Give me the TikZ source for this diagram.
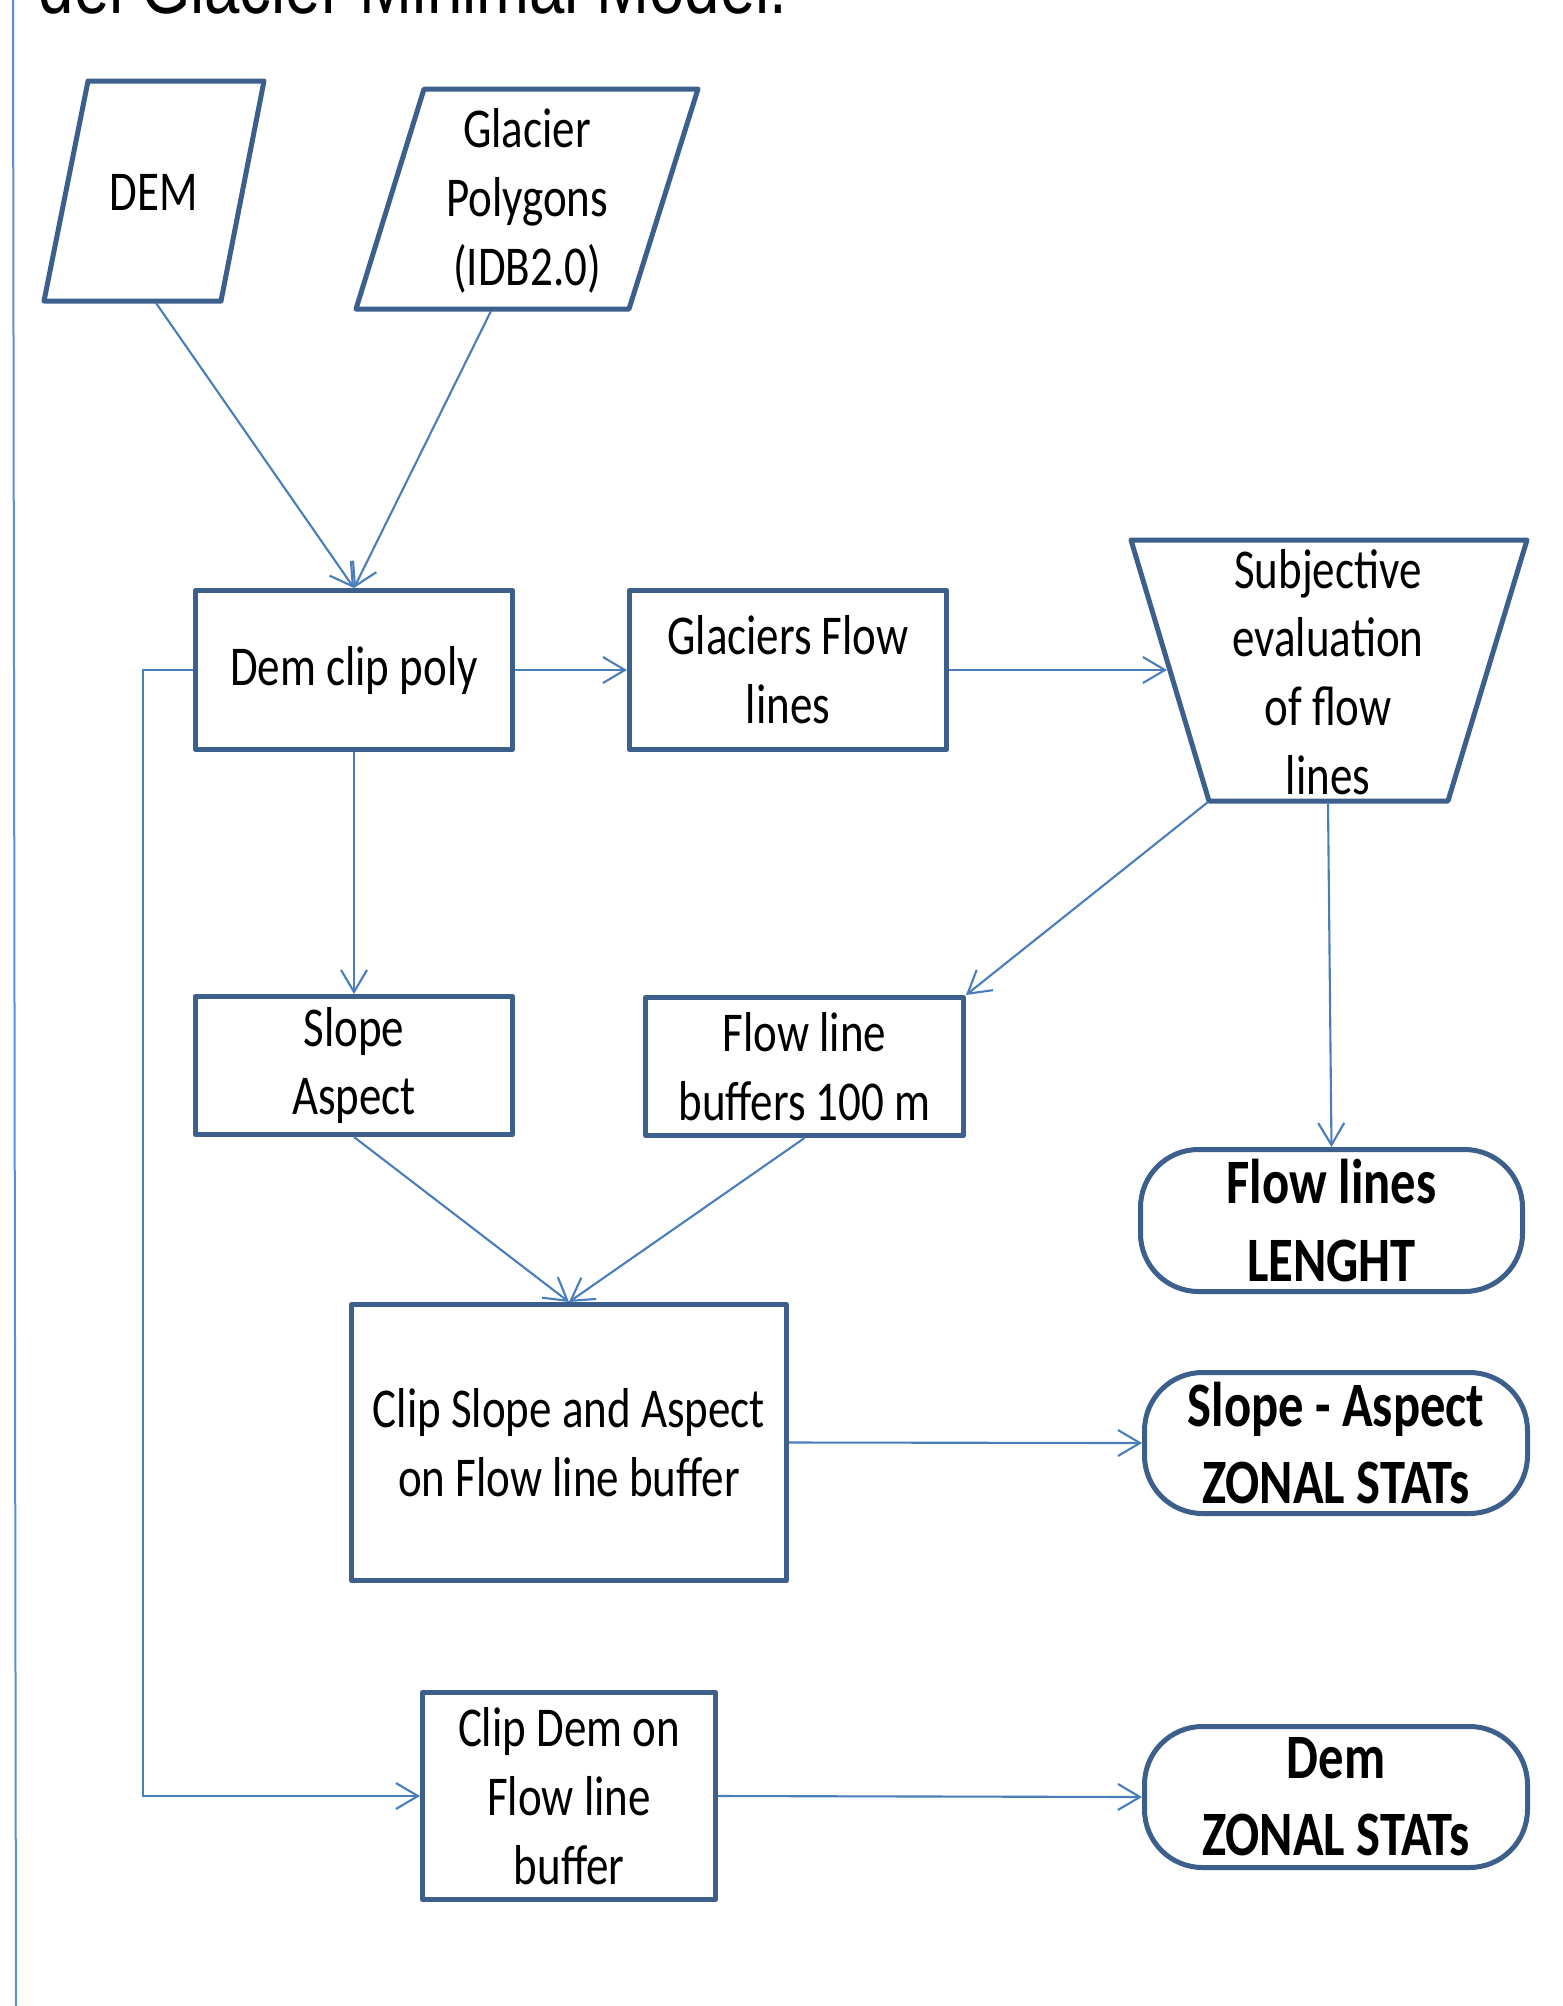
\documentclass[tikz,border=0pt]{standalone}
\usepackage{fontspec}
\setmainfont{Carlito}[FakeStretch=0.8]
\newfontfamily\fctitlefont{Liberation Sans}[FakeStretch=0.8]
\usetikzlibrary{arrows.meta}
\definecolor{boxblue}{HTML}{3C5F8C}
\definecolor{arrowblue}{HTML}{4A7EBB}
\definecolor{frameblue}{HTML}{5A8ED8}
\newcommand\fcnormal{\fontsize{16}{19.6}\selectfont}
\newcommand\fcbold{\fontsize{18}{22}\selectfont\bfseries}
\begin{document}
\begin{tikzpicture}[x=0.1mm,y=-0.1mm,
  boxline/.style={draw=boxblue, line width=0.5mm, line join=round},
  procbox/.style={boxline, rectangle, fill=white, inner sep=0pt, align=center, font=\fcnormal},
  termbox/.style={boxline, rectangle, rounded corners=5.8mm, inner sep=0pt, align=center, font=\fcbold},
  txt/.style={inner sep=0pt, align=center, font=\fcnormal},
  conn/.style={draw=arrowblue, line width=0.6pt, -{Straight Barb[length=2.2mm,width=2.6mm]}},
]
\useasboundingbox (0,0) rectangle (1563,2006);
\begin{scope}
  \clip (0,0) rectangle (1563,2006);
  \node[anchor=base west, inner sep=0pt, font=\fctitlefont\fontsize{22.6}{27}\selectfont] (title) at (38,13) {del Glacier Minimal Model.};
\end{scope}
% left frame line
\draw[frameblue, line width=0.2mm] (13,0) -- (16,2006);

% input parallelograms
\draw[boxline] (88,81) -- (264,81) -- (221,301) -- (44,301) -- cycle;
\node[txt] (dem) at (154,192) {DEM};
\draw[boxline] (424,89) -- (698,89) -- (629,309) -- (356,309) -- cycle;
\node[txt] (gp) at (527,201) {Glacier\\Polygons\\(IDB2.0)};

% process boxes
\node[procbox, minimum width=31.7mm, minimum height=15.9mm] (dcp) at (354,670) {Dem clip poly};
\node[procbox, minimum width=31.7mm, minimum height=15.9mm] (gfl) at (788,670) {Glaciers Flow\\lines};

% subjective evaluation trapezoid
\draw[boxline] (1131,540) -- (1527,540) -- (1448,801) -- (1209,801) -- cycle;
\node[txt] (subj) at (1328,672) {Subjective\\evaluation\\of flow\\lines};

\node[procbox, minimum width=31.7mm, minimum height=13.8mm] (sa) at (354,1065.5) {Slope\\Aspect};
\node[procbox, minimum width=31.8mm, minimum height=13.8mm] (flb) at (804.5,1066.5) {Flow line\\buffers 100 m};
\node[procbox, minimum width=43.5mm, minimum height=27.6mm] (csa) at (569,1442.5) {Clip Slope and Aspect\\on Flow line buffer};
\node[procbox, minimum width=29.3mm, minimum height=20.7mm] (cdf) at (569,1796) {Clip Dem on\\Flow line\\buffer};

% terminals
\node[termbox, minimum width=38.2mm, minimum height=14.2mm] (fll) at (1331.5,1220.5) {Flow lines\\LENGHT};
\node[termbox, minimum width=38.3mm, minimum height=14.1mm] (saz) at (1336,1443) {Slope - Aspect\\ZONAL STATs};
\node[termbox, minimum width=38.3mm, minimum height=14.1mm] (dz) at (1336,1797) {Dem\\ZONAL STATs};

% connector ends on drawn shapes
\coordinate (demout) at (156,303);
\coordinate (gpout) at (491,311);
\coordinate (subjin) at (1167,670);
\coordinate (subjbl) at (1208,802);
\coordinate (subjout) at (1328,802);

% connectors
\draw[conn] (demout) -- (dcp.north);
\draw[conn] (gpout) -- (dcp.north);
\draw[conn] (dcp.east) -- (gfl.west);
\draw[conn] (gfl.east) -- (subjin);
\draw[conn] (subjbl) -- (flb.north east);
\draw[conn] (subjout) -- (fll.north);
\draw[conn] (dcp.south) -- (sa.north);
\draw[conn] (sa.south) -- (csa.north);
\draw[conn] (flb.south) -- (csa.north);
\draw[conn] (csa.east) -- (saz.west);
\draw[conn] (cdf.east) -- (dz.west);
\draw[conn] (dcp.west) -- ++(-50,0) |- (cdf.west);
\end{tikzpicture}
\end{document}
